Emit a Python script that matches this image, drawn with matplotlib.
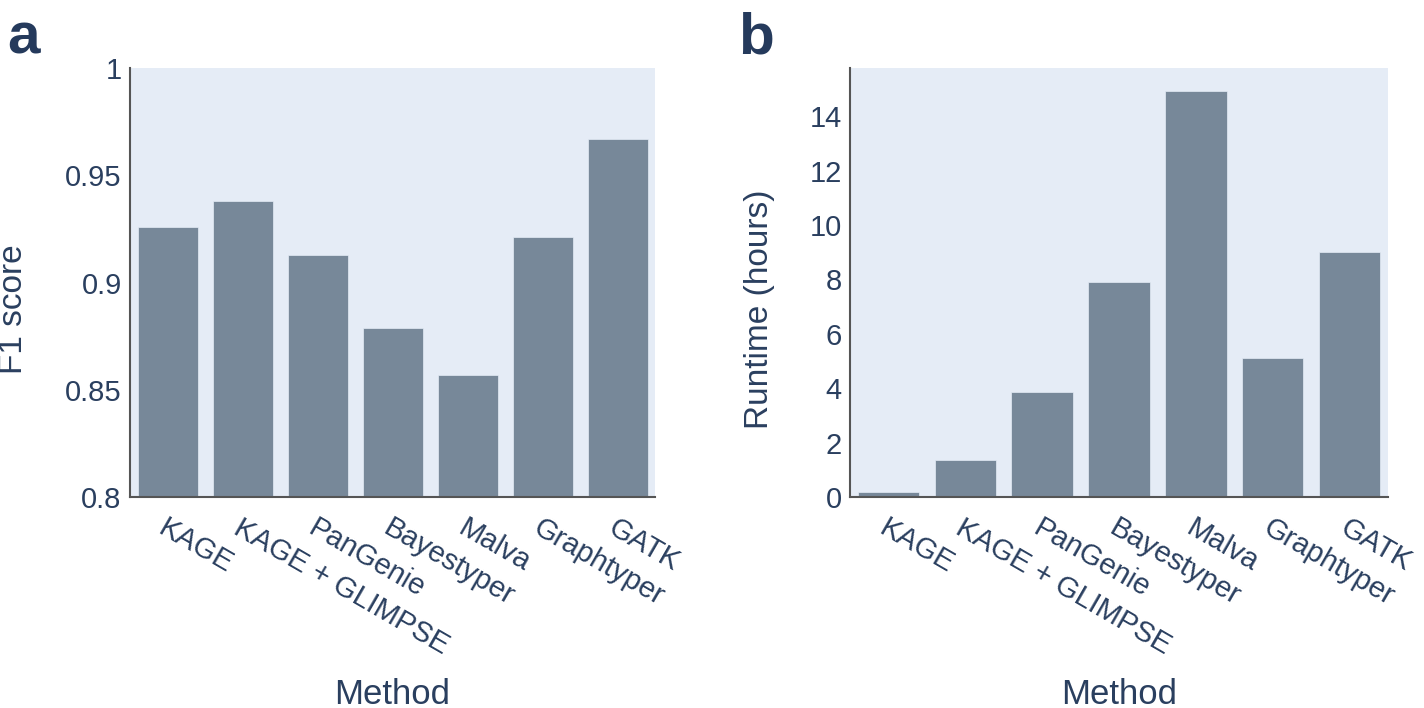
import matplotlib
matplotlib.use("Agg")
import matplotlib.pyplot as plt

methods = ["KAGE", "KAGE + GLIMPSE", "PanGenie", "Bayestyper", "Malva", "Graphtyper", "GATK"]
f1_scores = [0.926, 0.938, 0.913, 0.879, 0.857, 0.921, 0.967]
runtime_hours = [0.18, 1.36, 3.86, 7.9, 14.93, 5.11, 9.0]
f1_ticks = [0.8, 0.85, 0.9, 0.95, 1.0]
f1_ticklabels = ["0.8", "0.85", "0.9", "0.95", "1"]
rt_ticks = [0, 2, 4, 6, 8, 10, 12, 14]

plt.rcParams['font.family'] = ['Liberation Sans', 'DejaVu Sans']
TXT = '#2a3f5f'
BG = '#E5ECF6'
BAR = '#778899'

fig = plt.figure(figsize=(14.24, 7.08), dpi=100)
W, H = 1424, 708

def make_ax(l, r, t, b):
    return fig.add_axes([l / W, (H - b) / H, (r - l) / W, (b - t) / H])

ax1 = make_ax(130, 655, 68, 497)
ax2 = make_ax(850, 1388, 68, 497)

def style(ax, vals, ylim, ticks, ticklabels, ylabel, ylabel_px, left_px, width_px):
    ax.set_facecolor(BG)
    x = list(range(len(methods)))
    ax.bar(x, [v - ylim[0] for v in vals], bottom=ylim[0], width=0.8, color=BAR,
           edgecolor=BG, linewidth=0.5, zorder=2)
    ax.set_xlim(-0.5, len(methods) - 0.5)
    ax.set_ylim(*ylim)
    ax.set_yticks(ticks)
    ax.set_yticklabels(ticklabels)
    ax.set_xticks(x)
    ax.set_xticklabels(methods, rotation=-30, ha='left', va='top', rotation_mode='anchor')
    for s in ['top', 'right']:
        ax.spines[s].set_visible(False)
    for s in ['left', 'bottom']:
        ax.spines[s].set_color('#555555')
        ax.spines[s].set_linewidth(1.5)
    ax.tick_params(axis='both', length=0, labelsize=21, colors=TXT, pad=6)
    ax.tick_params(axis='x', pad=12)
    ax.set_xlabel("Method", fontsize=25, color=TXT)
    ax.xaxis.set_label_coords(0.5, (497 - 694) / (497 - 68))
    ax.xaxis.label.set_va('center')
    ax.set_ylabel(ylabel, fontsize=24, color=TXT)
    ax.yaxis.set_label_coords((ylabel_px - left_px) / width_px, (497 - 309) / (497 - 68))
    ax.yaxis.label.set_va('center')

style(ax1, f1_scores, (0.8, 1.0), f1_ticks, f1_ticklabels, "F1 score", 14, 130, 525)
style(ax2, runtime_hours, (0, 15.77), rt_ticks, [str(t) for t in rt_ticks], "Runtime (hours)", 759, 850, 538)

fig.text(7 / W, (H - 38) / H, "a", fontsize=42, fontweight='bold', color='#253a5c', va='center', ha='left')
fig.text(738 / W, (H - 38) / H, "b", fontsize=42, fontweight='bold', color='#253a5c', va='center', ha='left')

fig.savefig("out.png", dpi=100)
